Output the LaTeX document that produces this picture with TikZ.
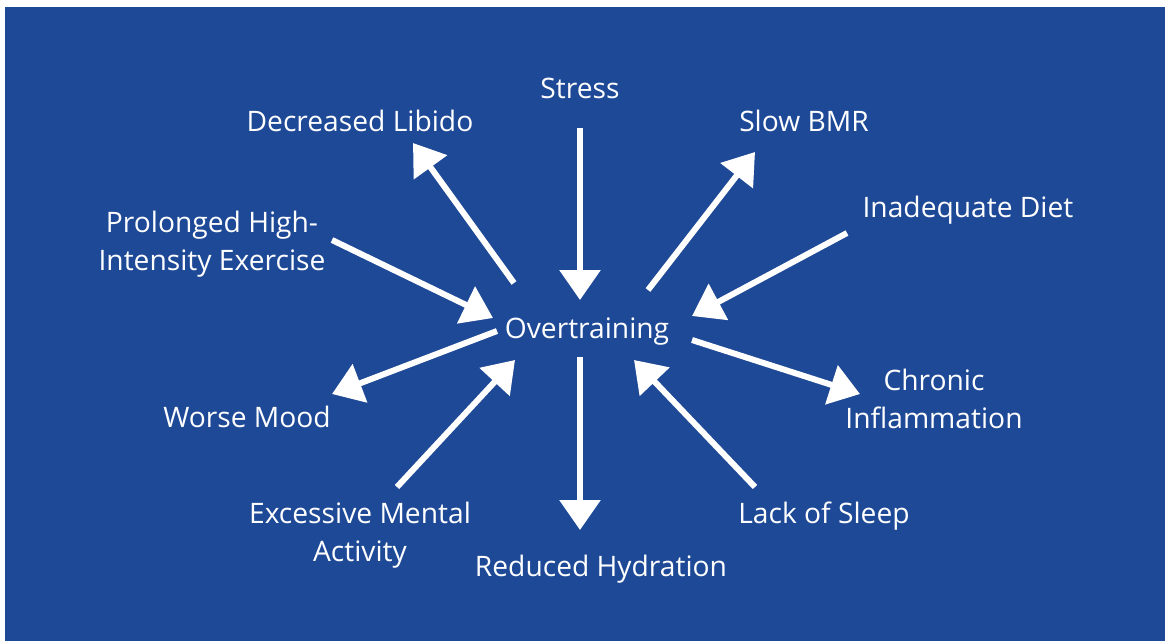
\documentclass[tikz,border=0pt]{standalone}
\usepackage{fontspec}
\setmainfont{Open Sans}
\usetikzlibrary{arrows.meta}
\definecolor{bgblue}{RGB}{30,73,150}
\begin{document}
\begin{tikzpicture}[x=1pt,y=-1pt,
  lbl/.style={text=white,font=\fontsize{28.2}{38}\selectfont,align=center,inner sep=0pt},
  arr/.style={draw=white,line width=6pt,-{Triangle[width=40pt,length=30pt]}}]
\useasboundingbox (0,0) rectangle (1165,641);
\fill[bgblue] (5,7) rectangle (1165,641);
% nodes
\node[lbl] (over) at (587,332) {Overtraining};
\node[lbl] (stress) at (580,88) {Stress};
\node[lbl] (libido) at (360,121) {Decreased Libido};
\node[lbl] (bmr) at (804,121) {Slow BMR};
\node[lbl] (diet) at (968,210) {Inadequate Diet};
\node[lbl] (prol) at (212,244) {Prolonged High-\\Intensity Exercise};
\node[lbl] (chron) at (934,399) {Chronic\\Inflammation};
\node[lbl] (mood) at (247,417) {Worse Mood};
\node[lbl] (ment) at (360,535) {Excessive Mental\\Activity};
\node[lbl] (hyd) at (601,569) {Reduced Hydration};
\node[lbl] (sleep) at (824,516) {Lack of Sleep};
% arrow end points
\coordinate (stressA) at (580,128);  \coordinate (overA) at (580,300);
\coordinate (overB) at (514,283);    \coordinate (libidoB) at (413,143);
\coordinate (overC) at (648,290);    \coordinate (bmrC) at (755,152);
\coordinate (dietD) at (847,233);    \coordinate (overD) at (692,316);
\coordinate (prolE) at (332,240);    \coordinate (overE) at (493,318);
\coordinate (overF) at (497,331);    \coordinate (moodF) at (332,394);
\coordinate (overG) at (692,340);    \coordinate (chronG) at (860,394);
\coordinate (mentH) at (397,487);    \coordinate (overH) at (515,360);
\coordinate (overI) at (580,357);    \coordinate (hydI) at (580,530);
\coordinate (sleepJ) at (755,487);   \coordinate (overJ) at (634,360);
% connectors
\draw[arr] (stressA) -- (overA);
\draw[arr] (overB) -- (libidoB);
\draw[arr] (overC) -- (bmrC);
\draw[arr] (dietD) -- (overD);
\draw[arr] (prolE) -- (overE);
\draw[arr] (overF) -- (moodF);
\draw[arr] (overG) -- (chronG);
\draw[arr] (mentH) -- (overH);
\draw[arr] (overI) -- (hydI);
\draw[arr] (sleepJ) -- (overJ);
\end{tikzpicture}
\end{document}
